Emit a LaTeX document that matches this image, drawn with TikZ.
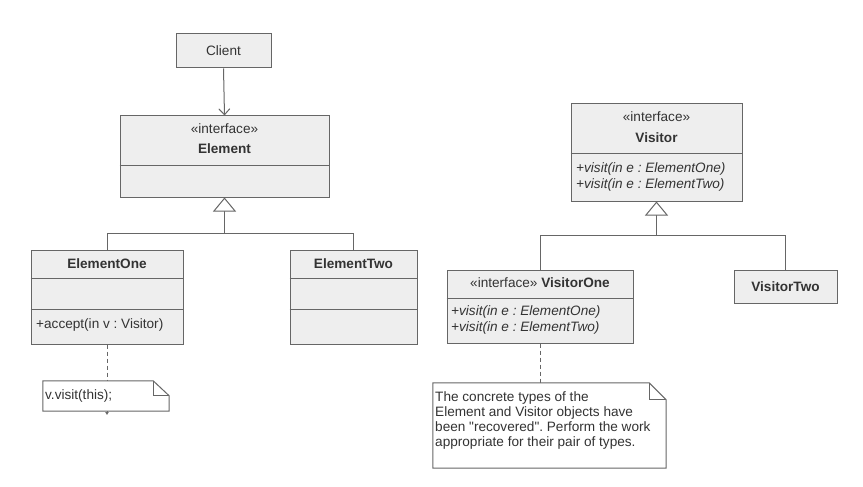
\documentclass[tikz,border=0pt]{standalone}
\usepackage{fontspec}
\setmainfont{Liberation Sans}
\usetikzlibrary{arrows.meta}
\frenchspacing
\definecolor{boxfill}{HTML}{EEEEEE}
\definecolor{boxline}{HTML}{666666}
\definecolor{txt}{HTML}{333333}
\tikzset{
  cls/.style={draw=boxline, fill=boxfill, line width=1pt, inner sep=0pt},
  lbl/.style={inner sep=0pt, text=txt, font=\fontsize{13.6}{15}\selectfont},
  blbl/.style={lbl, font=\fontsize{13.6}{15}\selectfont\bfseries},
  ilbl/.style={lbl, font=\fontsize{13.6}{15}\selectfont\itshape, anchor=west},
  conn/.style={draw=boxline, line width=1pt},
  inherit/.style={conn, -{Triangle[open, length=14pt, width=23pt, fill=white]}},
  dep/.style={conn, -{Straight Barb[length=6pt, width=11pt]}},
  noteline/.style={conn, dashed, dash pattern=on 4pt off 3pt},
  notebox/.style={draw=boxline, fill=white, line width=1pt},
}
\begin{document}
\begin{tikzpicture}[x=1pt,y=-1pt]
\useasboundingbox[fill=white] (0,0) rectangle (863,487);

% Client
\node[cls, minimum width=95pt, minimum height=34pt] (client) at (223.5,51) {};
\node[lbl] (clientT) at (223.5,51) {Client};

% Element
\node[cls, minimum width=209pt, minimum height=81pt] (element) at (224.5,156.5) {};
\draw[conn] (element.west |- 0,165) -- (element.east |- 0,165);
\node[lbl] (elementS) at (224.5,129) {«interface»};
\node[blbl] (elementT) at (224.5,149) {Element};

% ElementOne
\node[cls, minimum width=152pt, minimum height=94pt] (e1) at (107,297) {};
\draw[conn] (e1.west |- 0,278) -- (e1.east |- 0,278);
\draw[conn] (e1.west |- 0,309) -- (e1.east |- 0,309);
\node[blbl] (e1T) at (107,264) {ElementOne};
\node[lbl, anchor=west] (e1M) at (36,325) {+accept(in v : Visitor)};

% ElementTwo
\node[cls, minimum width=127pt, minimum height=94pt] (e2) at (353.5,297) {};
\draw[conn] (e2.west |- 0,278) -- (e2.east |- 0,278);
\draw[conn] (e2.west |- 0,309) -- (e2.east |- 0,309);
\node[blbl] (e2T) at (353.5,264) {ElementTwo};

% Visitor
\node[cls, minimum width=171pt, minimum height=97pt] (visitor) at (656.5,152.5) {};
\draw[conn] (visitor.west |- 0,153) -- (visitor.east |- 0,153);
\node[lbl] (visitorS) at (656.5,117) {«interface»};
\node[blbl] (visitorT) at (656.5,138) {Visitor};
\node[ilbl] (visitorM1) at (576,169) {+visit(in e : ElementOne)};
\node[ilbl] (visitorM2) at (576,185) {+visit(in e : ElementTwo)};

% VisitorOne
\node[cls, minimum width=186pt, minimum height=73pt] (v1) at (540,306.5) {};
\draw[conn] (v1.west |- 0,298) -- (v1.east |- 0,298);
\node[lbl] (v1T) at (540,283) {«interface» \textbf{VisitorOne}};
\node[ilbl] (v1M1) at (451,312) {+visit(in e : ElementOne)};
\node[ilbl] (v1M2) at (451,328) {+visit(in e : ElementTwo)};

% VisitorTwo
\node[cls, minimum width=103pt, minimum height=33pt] (v2) at (785.5,286.5) {};
\node[blbl] (v2T) at (785.5,287) {VisitorTwo};

% Connectors
\draw[dep] (client.south) -- (element.north);

\coordinate (ej) at (224.5,233);
\draw[conn] (e2.north) |- (ej);
\draw[inherit] (e1.north) |- (ej) -- (element.south);

\coordinate (vj) at (656.5,235);
\draw[conn] (v2.north) |- (vj);
\draw[inherit] (v1.north) |- (vj) -- (visitor.south);

% Note 1
\coordinate (n1end) at (107,415);
\draw[noteline, -{Latex[length=3pt, width=4pt]}] (e1.south) -- (n1end);
\node[minimum width=126pt, minimum height=30pt, inner sep=0pt] (note1) at (106,396) {};
\draw[notebox] (note1.north west) -- ([xshift=-16pt]note1.north east) -- ([yshift=-15pt]note1.north east) -- (note1.south east) -- (note1.south west) -- cycle;
\draw[conn] ([xshift=-16pt]note1.north east) -- ([xshift=-16pt,yshift=-15pt]note1.north east) -- ([yshift=-15pt]note1.north east);
\node[lbl, anchor=west] (note1T) at (45,396) {v.visit(this);};

% Note 2
\node[minimum width=233pt, minimum height=85pt, inner sep=0pt] (note2) at (549.5,425.5) {};
\draw[noteline] (v1.south) -- (note2.north -| v1.south);
\draw[notebox] (note2.north west) -- ([xshift=-17pt]note2.north east) -- ([yshift=-17pt]note2.north east) -- (note2.south east) -- (note2.south west) -- cycle;
\draw[conn] ([xshift=-17pt]note2.north east) -- ([xshift=-17pt,yshift=-17pt]note2.north east) -- ([yshift=-17pt]note2.north east);
\node[lbl, anchor=north west, align=left, font=\fontsize{13.6}{15.3}\selectfont] (note2T) at (435,391) {The concrete types of the\\Element and Visitor objects have\\been \textquotedbl recovered\textquotedbl. Perform the work\\appropriate for their pair of types.};
\end{tikzpicture}
\end{document}
